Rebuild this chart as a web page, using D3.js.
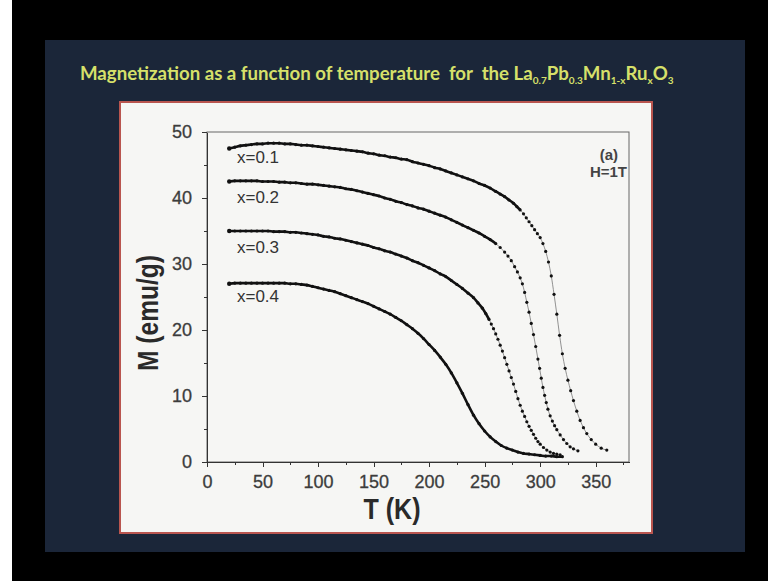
<!DOCTYPE html>
<html>
  <head>
    <meta charset="utf-8" />
    <title>Magnetization vs temperature</title>
    <script src="https://d3js.org/d3.v7.min.js"></script>
    <style>
      body { margin: 0; background: #000; }
      svg { display: block; }
      .tick text { font-family: "Liberation Sans", Arial, sans-serif; font-size: 18px; fill: #3c3c3c; stroke: #3c3c3c; stroke-width: 0.3px; }
      .axis path, .axis line { stroke: #333; shape-rendering: crispEdges; }
    </style>
  </head>
  <body>
    <script>
      // Series: temperature (K) and magnetization (emu/g)
      const t01 = [20,25,30,35,40,45,50,55,60,65,70,75,80,85,90,95,100,105,110,115,120,125,130,135,140,145,150,155,160,165,170,175,180,185,190,195,200,205,210,215,220,225,230,235,240,245,250,255,260,264,268,272,276,279,282,285,287.5,290,292.5,295,297.5,300,302.5,305,307.5,310,312.5,315,317.5,320,322.5,325,327.5,330,333,336,339,342,346,350,355,360];
      const m01 = [47.5,47.7,47.9,48.0,48.1,48.2,48.2,48.3,48.3,48.3,48.2,48.2,48.1,48.0,48.0,47.9,47.8,47.7,47.6,47.5,47.4,47.3,47.2,47.1,47.0,46.8,46.7,46.5,46.4,46.2,46.1,45.9,45.8,45.5,45.3,45.1,44.9,44.6,44.4,44.1,43.8,43.5,43.2,42.9,42.6,42.2,41.9,41.5,41.0,40.6,40.2,39.7,39.2,38.7,38.2,37.6,37.0,36.4,35.8,35.2,34.6,34.0,33.1,31.9,30.3,28.2,25.4,22.4,19.2,16.4,14.2,12.4,10.8,9.3,7.7,6.3,5.2,4.3,3.4,2.7,2.1,1.8];

      const t02 = [20,25,30,35,40,45,50,55,60,65,70,75,80,85,90,95,100,105,110,115,120,125,130,135,140,145,150,155,160,165,170,175,180,185,190,195,200,205,210,215,220,225,230,235,240,245,250,255,260,264,268,271,274,277,279.5,282,284,286,288,290,292,294,296,298,299.5,301,302.5,304,305.5,307,309,311,313,315,318,321,324,327,330,334];
      const m02 = [42.5,42.6,42.6,42.6,42.6,42.6,42.5,42.5,42.5,42.4,42.4,42.3,42.3,42.2,42.1,42.1,42.0,41.9,41.8,41.7,41.6,41.4,41.3,41.1,40.9,40.7,40.5,40.3,40.0,39.8,39.5,39.3,39.0,38.8,38.5,38.3,38.0,37.7,37.4,37.1,36.7,36.3,35.9,35.5,35.1,34.7,34.2,33.7,33.1,32.5,31.8,31.2,30.5,29.6,28.8,27.9,27.0,25.7,24.2,22.7,21.0,19.3,17.5,15.6,14.2,12.7,11.3,10.1,9.0,8.0,7.0,6.2,5.5,4.9,4.1,3.4,2.8,2.3,2.0,1.7];

      const t03 = [20,25,30,35,40,45,50,55,60,65,70,75,80,85,90,95,100,105,110,115,120,125,130,135,140,145,150,155,160,165,170,175,180,185,190,195,200,205,210,215,220,225,230,235,240,244,248,251,254,256,258,260,262,264,266,268,270,272,274,276,278,280,282,284,286,288,290,292,294,296,298,300,303,306,309,312,315,318];
      const m03 = [35.0,35.0,35.0,35.0,35.0,35.0,35.0,35.0,34.9,34.9,34.9,34.8,34.8,34.7,34.6,34.5,34.4,34.2,34.1,33.9,33.8,33.6,33.4,33.2,33.0,32.8,32.5,32.3,32.0,31.8,31.5,31.2,30.9,30.5,30.2,29.8,29.4,29.0,28.5,28.1,27.5,26.9,26.3,25.6,24.9,24.1,23.3,22.5,21.6,20.9,20.2,19.4,18.6,17.7,16.8,15.8,14.8,13.8,12.8,11.8,10.7,9.6,8.6,7.7,6.9,6.1,5.4,4.8,4.2,3.6,3.1,2.7,2.2,1.8,1.5,1.3,1.2,1.1];

      const t04 = [20,25,30,35,40,45,50,55,60,65,70,75,80,85,90,95,100,105,110,115,120,125,130,135,140,145,150,155,160,165,170,175,180,185,190,195,200,205,210,215,220,225,230,235,240,245,250,255,260,265,270,275,280,285,290,295,300,305,310,315,320];
      const m04 = [27.0,27.1,27.1,27.1,27.1,27.1,27.1,27.1,27.1,27.1,27.1,27.0,27.0,26.9,26.8,26.6,26.4,26.2,26.0,25.8,25.5,25.2,24.9,24.6,24.3,24.0,23.6,23.2,22.8,22.4,21.9,21.4,20.8,20.2,19.5,18.7,17.8,16.9,15.9,14.8,13.5,12.0,10.4,8.7,7.1,5.8,4.7,3.8,3.1,2.5,2.1,1.8,1.5,1.3,1.2,1.1,1.0,0.9,0.9,0.8,0.8];

      const seriesNames = ['x=0.1', 'x=0.2', 'x=0.3', 'x=0.4'];
      // where each label sits, in data units (T, M)
      const labelT = [27, 27, 27, 27];
      const labelM = [45.3, 39.2, 31.7, 24.2];

      const yTicks = [0, 10, 20, 30, 40, 50];
      const yMinor = [5, 15, 25, 35, 45];
      const xTicks = [0, 50, 100, 150, 200, 250, 300, 350];
      const xMinor = [25, 75, 125, 175, 225, 275, 325, 375];

      // above this temperature the measured points are spread out and show as dots
      const dotFrom = [283, 262, 255, Infinity];

      const series = [[t01, m01], [t02, m02], [t03, m03], [t04, m04]]
        .map(([t, m]) => t.map((v, i) => [v, m[i]]));

      const width = 768, height = 581;
      const svg = d3.select('body').append('svg')
        .attr('width', width).attr('height', height);

      // slide background
      svg.append('rect').attr('width', width).attr('height', height).attr('fill', '#000');
      svg.append('rect').attr('width', 12).attr('height', height).attr('fill', '#fff');
      svg.append('rect').attr('x', 45).attr('y', 40).attr('width', 700).attr('height', 512)
        .attr('fill', '#1b2639');

      // title
      const title = svg.append('text')
        .attr('x', 80).attr('y', 80)
        .attr('fill', '#d6e06a')
        .attr('font-family', 'Lato, "Open Sans", sans-serif')
        .attr('font-weight', 'bold')
        .attr('font-size', 16)
        .style('white-space', 'pre');
      const parts = [
        ['Magnetization as a function of temperature  for  the La', false],
        ['0.7', true], ['Pb', false], ['0.3', true], ['Mn', false],
        ['1-x', true], ['Ru', false], ['x', true], ['O', false], ['3', true]
      ];
      let shifted = false;
      parts.forEach(([txt, sub]) => {
        const ts = title.append('tspan').text(txt);
        if (sub) { ts.attr('font-size', 10); if (!shifted) { ts.attr('dy', 4); shifted = true; } }
        else if (shifted) { ts.attr('dy', -4); shifted = false; }
      });
      const tw = title.node().getComputedTextLength();
      title.attr('font-size', 16 * 603 / tw);

      // white panel
      svg.append('rect').attr('x', 120).attr('y', 102).attr('width', 532).attr('height', 431)
        .attr('fill', '#f6f6f4').attr('stroke', '#b9554f').attr('stroke-width', 2);

      const x = d3.scaleLinear().domain([0, 380]).range([207, 629]);
      const y = d3.scaleLinear().domain([0, 50]).range([462, 132]);

      // frame
      svg.append('rect')
        .attr('x', x(0)).attr('y', y(50))
        .attr('width', x(380) - x(0)).attr('height', y(0) - y(50))
        .attr('fill', 'none').attr('stroke', '#666').attr('stroke-width', 1);

      // axes
      svg.append('g').attr('class', 'axis')
        .attr('transform', `translate(${x(0)},0)`)
        .call(d3.axisLeft(y).tickValues(yMinor).tickSize(3).tickSizeOuter(0).tickFormat(''));
      svg.append('g').attr('class', 'axis')
        .attr('transform', `translate(${x(0)},0)`)
        .call(d3.axisLeft(y).tickValues(yTicks).tickSize(5).tickSizeOuter(0).tickPadding(10))
        .select('.domain').attr('stroke-width', 1.5);
      svg.append('g').attr('class', 'axis')
        .attr('transform', `translate(0,${y(0)})`)
        .call(d3.axisBottom(x).tickValues(xMinor).tickSize(3).tickSizeOuter(0).tickFormat(''));
      svg.append('g').attr('class', 'axis')
        .attr('transform', `translate(0,${y(0)})`)
        .call(d3.axisBottom(x).tickValues(xTicks).tickSize(5).tickSizeOuter(0).tickPadding(8))
        .select('.domain').attr('stroke-width', 1.5);

      // axis titles
      svg.append('text')
        .attr('x', 392).attr('y', 519)
        .attr('text-anchor', 'middle')
        .attr('font-family', '"Liberation Sans Narrow", "Liberation Sans", Arial, sans-serif')
        .attr('font-weight', 'bold').attr('font-size', 29).attr('fill', '#2a2a2a')
        .attr('textLength', 57).attr('lengthAdjust', 'spacingAndGlyphs')
        .text('T (K)');
      svg.append('text')
        .attr('transform', 'translate(158,313) rotate(-90)')
        .attr('text-anchor', 'middle')
        .attr('font-family', '"Liberation Sans Narrow", "Liberation Sans", Arial, sans-serif')
        .attr('font-weight', 'bold').attr('font-size', 29).attr('fill', '#2a2a2a')
        .attr('textLength', 116).attr('lengthAdjust', 'spacingAndGlyphs')
        .text('M (emu/g)');

      // curves
      const line = d3.line().x(d => x(d[0])).y(d => y(d[1])).curve(d3.curveMonotoneX);
      series.forEach((pts, i) => {
        svg.append('path').attr('d', line(pts))
          .attr('fill', 'none').attr('stroke', '#777').attr('stroke-width', 0.8);
        const solid = pts.filter(d => d[0] <= dotFrom[i]);
        svg.append('path').attr('d', line(solid))
          .attr('fill', 'none').attr('stroke', '#111').attr('stroke-width', 2.6);
        svg.append('g').selectAll('circle').data(pts).join('circle')
          .attr('cx', d => x(d[0])).attr('cy', d => y(d[1]))
          .attr('r', (d, j) => j === 0 ? 2.2 : 1.6)
          .attr('fill', '#111');
      });

      // series labels
      svg.append('g').selectAll('text').data(seriesNames).join('text')
        .attr('x', (d, i) => x(labelT[i])).attr('y', (d, i) => y(labelM[i]))
        .attr('font-family', '"Liberation Sans", Arial, sans-serif')
        .attr('font-size', 17).attr('fill', '#333')
        .text(d => d);

      // field annotation
      const note = svg.append('g')
        .attr('font-family', '"Liberation Sans", Arial, sans-serif')
        .attr('font-weight', 'bold').attr('font-size', 15).attr('fill', '#444')
        .attr('text-anchor', 'end');
      note.append('text').attr('x', 618).attr('y', 160).text('(a)');
      note.append('text').attr('x', 627).attr('y', 177).text('H=1T');
    </script>
  </body>
</html>
